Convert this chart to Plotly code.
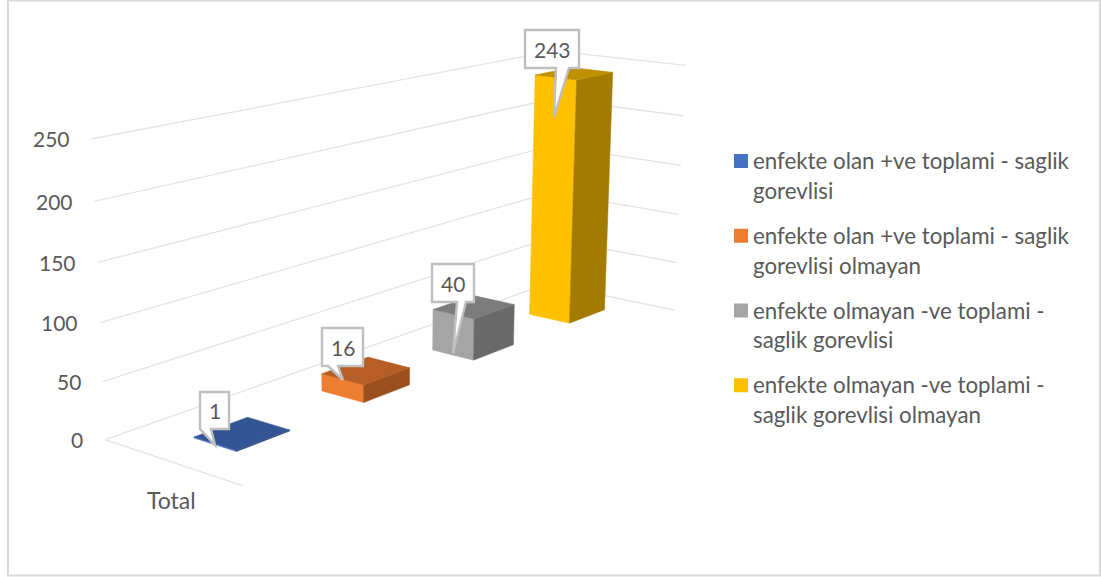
import numpy as np
import plotly.graph_objects as go

# Chart data
SERIES = [
    "enfekte olan +ve toplami - saglik<br>gorevlisi",
    "enfekte olan +ve toplami - saglik<br>gorevlisi olmayan",
    "enfekte olmayan -ve toplami -<br>saglik gorevlisi",
    "enfekte olmayan -ve toplami -<br>saglik gorevlisi olmayan",
]
VALUES = [1, 16, 40, 243]
CATEGORY = "Total"
VALUE_TICKS = [0, 50, 100, 150, 200, 250]

# Face colours per series: front, top, side
FRONT = ["#4472C4", "#ED7D31", "#A5A5A5", "#FFC000"]
TOP = ["#335593", "#B65E25", "#7C7C7C", "#BF9000"]
SIDE = ["#2C4A80", "#9A4F1D", "#696969", "#A37B00"]
SWATCH = FRONT

TEXT = "#595959"
GRID = "#E4E4E4"
FONT = "Lato"

# Scene box: world (depth, width, value) against its place on the canvas
BOX_WORLD = [(0, 0, 0), (0, 1, 0), (1, 0, 0), (1, 1, 0), (0, 0, 250), (1, 0, 250), (1, 1, 250)]
BOX_CANVAS = [(105, 439), (243, 486), (547, 284), (675, 310), (92, 139), (555, 51), (684.5, 65)]


def fit_camera(world, canvas):
    rows, rhs = [], []
    for (t, c, v), (x, y) in zip(world, canvas):
        rows.append([t, c, v, 1, 0, 0, 0, 0, -x * t, -x * c, -x * v])
        rhs.append(x)
        rows.append([0, 0, 0, 0, t, c, v, 1, -y * t, -y * c, -y * v])
        rhs.append(y)
    p = np.linalg.lstsq(np.array(rows, float), np.array(rhs, float), rcond=None)[0]
    return np.append(p, 1).reshape(3, 4)


CAMERA = fit_camera(BOX_WORLD, BOX_CANVAS)


def project(t, c, v):
    q = CAMERA @ np.array([t, c, v, 1.0])
    return float(q[0] / q[2]), float(q[1] / q[2])


def polyline(points):
    xy = [project(*p) for p in points]
    return [a for a, _ in xy], [b for _, b in xy]


fig = go.Figure()


def add_line(points):
    x, y = polyline(points)
    fig.add_trace(go.Scatter(x=x, y=y, mode="lines", line=dict(color=GRID, width=1.3),
                             hoverinfo="skip", showlegend=False))


def add_face(points, color):
    x, y = polyline(points + points[:1])
    fig.add_trace(go.Scatter(x=x, y=y, mode="lines", fill="toself", fillcolor=color,
                             line=dict(color=color, width=0.5),
                             hoverinfo="skip", showlegend=False))


# Walls and floor edge
for v in VALUE_TICKS:
    add_line([(0, 0, v), (1, 0, v), (1, 1, v)])
add_line([(0, 0, 0), (0, 1, 0)])

# One column per series, evenly spaced along the depth axis
COL_START, COL_STEP, COL_DEPTH = 0.079, 0.25, 0.10
C0, C1 = 0.338, 0.648
for i, val in enumerate(VALUES):
    t0 = COL_START + COL_STEP * i
    t1 = t0 + COL_DEPTH
    add_face([(t0, C0, 0), (t0, C1, 0), (t0, C1, val), (t0, C0, val)], FRONT[i])
    add_face([(t0, C1, 0), (t1, C1, 0), (t1, C1, val), (t0, C1, val)], SIDE[i])
    add_face([(t0, C0, val), (t0, C1, val), (t1, C1, val), (t1, C0, val)], TOP[i])

# Legend entries
for i, name in enumerate(SERIES):
    fig.add_trace(go.Scatter(x=[None], y=[None], mode="markers",
                             name=f'<span style="font-size:22.3px">{name}</span>',
                             legendgroup=str(i),
                             marker=dict(symbol="square", size=14, color=SWATCH[i]),
                             hoverinfo="skip"))

annotations = []
for v in VALUE_TICKS:
    x, y = project(0, 0, v)
    annotations.append(dict(x=x, y=y, text=str(v), showarrow=False, xanchor="right", yanchor="middle",
                            xshift=-20, font=dict(family=FONT, size=21, color=TEXT)))
x, y = project(0, 0.5, 0)
annotations.append(dict(x=x, y=y, text=CATEGORY, showarrow=False, xanchor="center", yanchor="middle",
                        yshift=-38, font=dict(family=FONT, size=23, color=TEXT)))

# Value callouts: box left, top, right, bottom, pointer base left and right, pointer tip
CALLOUTS = [
    (200, 392, 229, 429, 200, 211, (215, 445)),
    (322, 328, 363, 366, 328, 338, (343, 380)),
    (432, 264, 474, 302, 457, 466, (453, 353)),
    (525, 30, 579, 68, 556, 569, (554, 117)),
]
shapes = [dict(type="rect", xref="x", yref="y", x0=8, y0=0.5, x1=1100, y1=575.5,
               line=dict(color="#D9D9D9", width=2), layer="below")]
for val, (l, t, r, b, b0, b1, tip) in zip(VALUES, CALLOUTS):
    path = (f"M{l},{t} L{r},{t} L{r},{b} L{b1},{b} L{tip[0]},{tip[1]} L{b0},{b} L{l},{b} Z")
    shapes.append(dict(type="path", path=path, xref="x", yref="y", fillcolor="white",
                       line=dict(color="#BFBFBF", width=2.4), layer="above"))
    annotations.append(dict(x=(l + r) / 2, y=(t + b) / 2, text=str(val), showarrow=False,
                            xanchor="center", yanchor="middle",
                            font=dict(family=FONT, size=21, color=TEXT)))

fig.update_layout(
    width=1101, height=577, autosize=False,
    margin=dict(l=0, r=0, t=0, b=0),
    paper_bgcolor="white", plot_bgcolor="white",
    xaxis=dict(range=[0, 1101], visible=False, fixedrange=True),
    yaxis=dict(range=[577, 0], visible=False, fixedrange=True),
    shapes=shapes, annotations=annotations,
    legend=dict(x=713 / 1101, y=1 - 138.5 / 577, xanchor="left", yanchor="top",
                bgcolor="rgba(0,0,0,0)", tracegroupgap=12, traceorder="grouped",
                font=dict(family=FONT, size=23, color=TEXT)),
    font=dict(family=FONT, color=TEXT),
)

# Sit each swatch beside the first line of its entry, close to the text
SWATCH_NUDGE = """
document.getElementById('{plot_id}').querySelectorAll('.legend .legendsymbols')
    .forEach(function (g) { g.setAttribute('transform', 'translate(8,-14)'); });
"""

fig.write_html("out.html", config=dict(displayModeBar=False), post_script=SWATCH_NUDGE)
